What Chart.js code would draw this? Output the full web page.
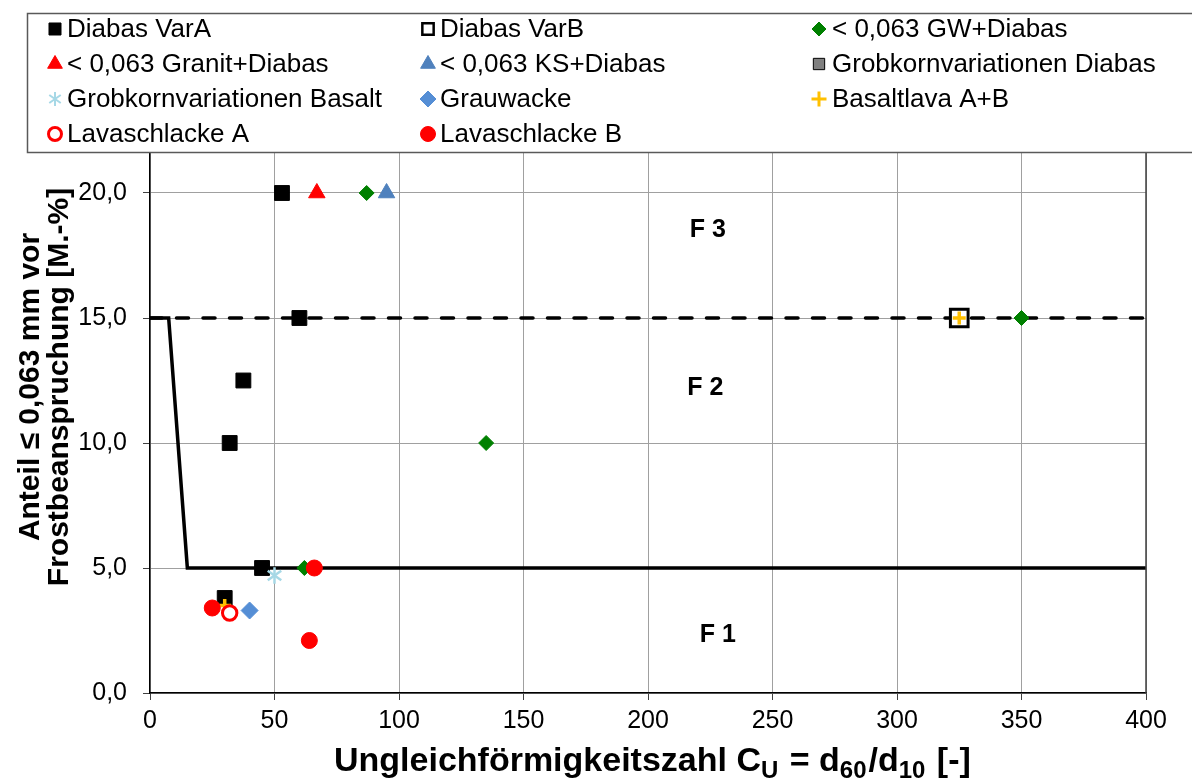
<!DOCTYPE html>
<html>
<head>
<meta charset="utf-8">
<script src="https://cdn.jsdelivr.net/npm/chart.js@4.4.0/dist/chart.umd.min.js"></script>
<style>
  html, body { margin: 0; padding: 0; background: #fff; }
  #wrap { width: 1192px; height: 778px; }
</style>
</head>
<body>
<div id="wrap"><canvas id="frostChart" width="1192" height="778"></canvas></div>
<script>
// measured points [Cu, fines %]
const diabasVarA = [[53, 20], [60, 15], [37.5, 12.5], [32, 10], [45, 5], [30, 3.8]];
const diabasVarB = [[325, 15]];
const gwDiabas = [[87, 20], [350, 15], [135, 10], [62, 5]];
const granitDiabas = [[67, 20]];
const ksDiabas = [[95, 20]];
const grobDiabas = [];
const grobBasalt = [[50, 4.7]];
const grauwacke = [[40, 3.3]];
const basaltlava = [[325, 15], [30, 3.5]];
const lavaA = [[32, 3.2]];
const lavaB = [[25, 3.4], [66, 5], [64, 2.1]];

// class boundaries F1/F2 and F2/F3
const boundaryF1 = [[0, 15], [7.5, 15], [15, 5], [400, 5]];
const boundaryF3 = [[0, 15], [400, 15]];

const classNames = ['F 3', 'F 2', 'F 1'];
const classAt = [[224, 18.5], [223, 12.2], [228, 2.3]];

const xTicks = [0, 50, 100, 150, 200, 250, 300, 350, 400];
const yTicks = [0, 5, 10, 15, 20];

const FONT = "'Liberation Sans', Arial, sans-serif";

function toXY(arr) { return arr.map(p => ({ x: p[0], y: p[1] })); }

// 6-spoke asterisk like the spreadsheet marker
function asterisk(size, color, lw) {
  const c = document.createElement('canvas');
  c.width = size; c.height = size;
  const g = c.getContext('2d');
  const r = size / 2 - lw / 2;
  g.strokeStyle = color; g.lineWidth = lw; g.lineCap = 'butt';
  [90, 35, -35].forEach(a => {
    const t = a * Math.PI / 180;
    g.beginPath();
    g.moveTo(size / 2 - Math.cos(t) * r, size / 2 - Math.sin(t) * r);
    g.lineTo(size / 2 + Math.cos(t) * r, size / 2 + Math.sin(t) * r);
    g.stroke();
  });
  return c;
}

const series = [
  { label: 'Diabas VarA', data: diabasVarA, pointStyle: 'rect', radius: 10.5, bg: '#000', border: '#000', bw: 1, lr: 8.5 },
  { label: 'Diabas VarB', data: diabasVarB, pointStyle: 'rect', radius: 12.5, bg: '#fff', border: '#000', bw: 3, lr: 8, lbw: 2.5 },
  { label: '< 0,063 GW+Diabas', data: gwDiabas, pointStyle: 'rectRot', radius: 7.5, bg: '#008000', border: '#008000', bw: 1, lr: 7 },
  { label: '< 0,063 Granit+Diabas', data: granitDiabas, pointStyle: 'triangle', radius: 9.5, bg: '#ff0000', border: '#ff0000', bw: 1, lr: 8.5 },
  { label: '< 0,063 KS+Diabas', data: ksDiabas, pointStyle: 'triangle', radius: 9.5, bg: '#4f81bd', border: '#4f81bd', bw: 1, lr: 8.5 },
  { label: 'Grobkornvariationen Diabas', data: grobDiabas, pointStyle: 'rect', radius: 10, bg: '#808080', border: '#000', bw: 1, lr: 8 },
  { label: 'Grobkornvariationen Basalt', data: grobBasalt, pointStyle: asterisk(19, '#a6d8e6', 2.5), radius: 9, bg: '#a6d8e6', border: '#a6d8e6', bw: 2.5, legendImg: asterisk(16, '#a6d8e6', 2) },
  { label: 'Grauwacke', data: grauwacke, pointStyle: 'rectRot', radius: 8.5, bg: '#558ed5', border: '#558ed5', bw: 1, lr: 8 },
  { label: 'Basaltlava A+B', data: basaltlava, pointStyle: 'cross', radius: 6.5, bg: '#ffc000', border: '#ffc000', bw: 3.5, lr: 7.5, lbw: 3 },
  { label: 'Lavaschlacke A', data: lavaA, pointStyle: 'circle', radius: 7.2, bg: '#fff', border: '#ff0000', bw: 3, lr: 6.5, lbw: 3 },
  { label: 'Lavaschlacke B', data: lavaB, pointStyle: 'circle', radius: 8, bg: '#ff0000', border: '#ff0000', bw: 1, lr: 7.5 }
];

const datasets = series.map((s, i) => ({
  label: s.label,
  data: toXY(s.data),
  pointStyle: s.pointStyle,
  pointRadius: s.radius,
  pointHoverRadius: s.radius,
  backgroundColor: s.bg,
  borderColor: s.border,
  pointBorderWidth: s.bw,
  showLine: false,
  order: 50 - i
}));

datasets.push({
  label: 'F1/F2', data: toXY(boundaryF1), showLine: true, pointRadius: 0,
  borderColor: '#000', borderWidth: 3.5, borderJoinStyle: 'miter', order: 100
});
datasets.push({
  label: 'F2/F3', data: toXY(boundaryF3), showLine: true, pointRadius: 0,
  borderColor: '#000', borderWidth: 3.5, borderDash: [12, 14.5], borderCapStyle: 'round', order: 101
});

const overlay = {
  id: 'overlay',
  afterDatasetsDraw(chart) {
    const ctx = chart.ctx, a = chart.chartArea;
    const xs = chart.scales.x, ys = chart.scales.y;
    ctx.save();
    // right frame edge
    ctx.strokeStyle = '#404040';
    ctx.lineWidth = 1.5;
    ctx.beginPath();
    ctx.moveTo(a.right, a.top);
    ctx.lineTo(a.right, a.bottom);
    ctx.stroke();
    // frost class labels
    ctx.fillStyle = '#000';
    ctx.font = 'bold 25px ' + FONT;
    ctx.textAlign = 'center';
    ctx.textBaseline = 'middle';
    classNames.forEach((t, i) => {
      ctx.fillText(t, xs.getPixelForValue(classAt[i][0]), ys.getPixelForValue(classAt[i][1]));
    });
    ctx.restore();
  },
  afterDraw(chart) {
    const ctx = chart.ctx;
    ctx.save();

    // legend box
    ctx.fillStyle = '#fff';
    ctx.fillRect(27, 13, 1200, 139);
    ctx.strokeStyle = '#595959';
    ctx.lineWidth = 1.5;
    ctx.strokeRect(27.5, 13.5, 1200, 139);

    const colMarker = [55, 428, 819];
    const colText = [67, 440, 832];
    const rowY = [29, 64, 99, 134];
    ctx.font = '26px ' + FONT;
    ctx.textBaseline = 'middle';
    ctx.textAlign = 'left';
    series.forEach((s, i) => {
      const c = i % 3, r = Math.floor(i / 3);
      const mx = colMarker[c], my = rowY[r];
      if (s.legendImg) {
        ctx.drawImage(s.legendImg, mx - s.legendImg.width / 2, my - s.legendImg.height / 2);
      } else {
        ctx.fillStyle = s.bg;
        ctx.strokeStyle = s.border;
        ctx.lineWidth = s.lbw || s.bw;
        Chart.helpers.drawPoint(ctx, { pointStyle: s.pointStyle, radius: s.lr, rotation: 0, borderWidth: s.lbw || s.bw }, mx, my);
      }
      ctx.fillStyle = '#000';
      ctx.fillText(s.label, colText[c], my + 1);
    });

    // x axis title with subscripts
    const parts = [
      ['Ungleichförmigkeitszahl C', 0], ['U', 1], [' = d', 0], ['60', 1], ['/d', 0], ['10', 1], [' [-]', 0]
    ];
    const big = 'bold 34px ' + FONT, small = 'bold 24px ' + FONT;
    let x = 334;
    const base = 771;
    ctx.fillStyle = '#000';
    ctx.textAlign = 'left';
    ctx.textBaseline = 'alphabetic';
    parts.forEach(p => {
      ctx.font = p[1] ? small : big;
      ctx.fillText(p[0], x, p[1] ? base + 7 : base);
      x += ctx.measureText(p[0]).width + (p[1] ? 2 : 0);
    });

    // y axis title, two lines
    ctx.translate(0, 387);
    ctx.rotate(-Math.PI / 2);
    ctx.font = 'bold 30px ' + FONT;
    ctx.textAlign = 'center';
    ctx.fillText('Anteil ≤ 0,063 mm vor', 0, 39);
    ctx.fillText('Frostbeanspruchung [M.-%]', 0, 68);
    ctx.restore();
  }
};

const ctx = document.getElementById('frostChart').getContext('2d');
const frostChart = new Chart(ctx, {
  type: 'scatter',
  data: { datasets: datasets },
  options: {
    responsive: false,
    animation: false,
    devicePixelRatio: 1,
    layout: { padding: { top: 68, right: 46, left: 0, bottom: 0 } },
    plugins: {
      legend: { display: false },
      tooltip: { enabled: false }
    },
    scales: {
      x: {
        type: 'linear', min: 0, max: 400,
        afterFit(scale) { scale.height = 85; },
        afterBuildTicks(scale) { scale.ticks = xTicks.map(v => ({ value: v })); },
        grid: { color: '#a0a0a0', lineWidth: 1, tickLength: 7, tickColor: '#404040' },
        border: { color: '#000', width: 1.5 },
        ticks: { color: '#000', font: { family: FONT, size: 25 }, padding: 6, maxRotation: 0 }
      },
      y: {
        type: 'linear', min: 0, max: 25,
        afterFit(scale) { scale.width = 150; },
        afterBuildTicks(scale) { scale.ticks = yTicks.concat([25]).map(v => ({ value: v })); },
        grid: { color: '#a0a0a0', lineWidth: 1, tickLength: 7, tickColor: '#404040' },
        border: { color: '#000', width: 1.5 },
        ticks: {
          color: '#000', font: { family: FONT, size: 25 }, padding: 16,
          callback: v => v.toFixed(1).replace('.', ',')
        }
      }
    }
  },
  plugins: [overlay]
});
</script>
</body>
</html>
